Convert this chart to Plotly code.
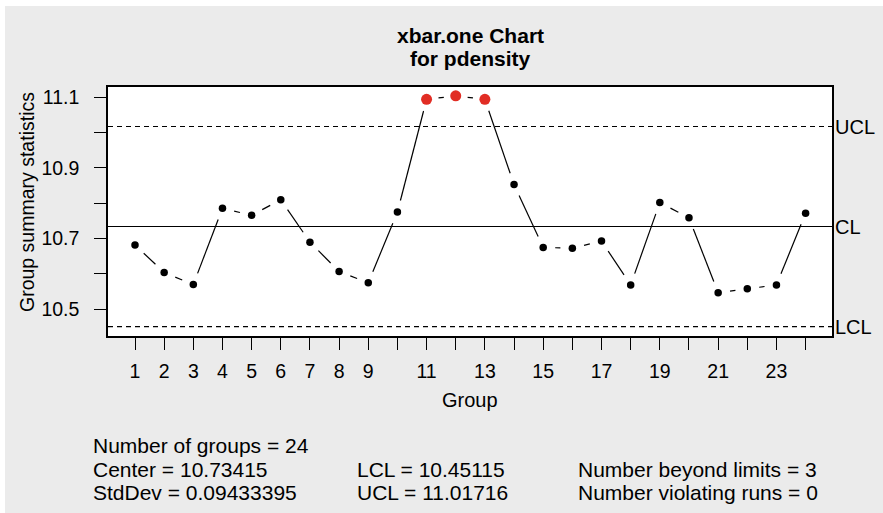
import math
import plotly.graph_objects as go

# ---------------- data ----------------
groups = list(range(1, 25))
group_stats = [10.682, 10.604, 10.570, 10.786, 10.766, 10.810, 10.690, 10.607,
               10.575, 10.775, 11.094, 11.104, 11.094, 10.853, 10.675, 10.673,
               10.693, 10.569, 10.802, 10.759, 10.547, 10.558, 10.569, 10.772]
x_tick_labels = ["1", "2", "3", "4", "5", "6", "7", "8", "9", "", "11", "",
                 "13", "", "15", "", "17", "", "19", "", "21", "", "23", ""]
y_tick_values = [10.5, 10.6, 10.7, 10.8, 10.9, 11.0, 11.1]
y_tick_labels = ["10.5", "", "10.7", "", "10.9", "", "11.1"]
center = 10.73415
lcl = 10.45115
ucl = 11.01716
stddev = 0.09433395
n_groups = 24
n_beyond = 3
n_runs = 0
title_lines = ["xbar.one Chart", "for pdensity"]

# ---------------- layout constants ----------------
FIG_W, FIG_H = 883, 513
M_L, M_R, M_T, M_B = 108, 51, 87, 177
PW, PH = FIG_W - M_L - M_R, FIG_H - M_T - M_B
X_RANGE = [0.074, 24.905]
Y_RANGE = [10.4245, 11.129]
FONT = "Liberation Sans, Arial, Helvetica, sans-serif"
BG = "#EBEBEB"


def px_x(px):
    return (px - M_L) / PW


def px_y(py):
    return (M_T + PH - py) / PH


# connecting segments with gaps around points (R type="b")
sx = PW / (X_RANGE[1] - X_RANGE[0])
sy = PH / (Y_RANGE[1] - Y_RANGE[0])
GAP = 12
seg_x, seg_y = [], []
for i in range(len(groups) - 1):
    x1, y1, x2, y2 = groups[i], group_stats[i], groups[i + 1], group_stats[i + 1]
    L = math.hypot((x2 - x1) * sx, (y2 - y1) * sy)
    if L > 2 * GAP:
        t = GAP / L
        seg_x += [x1 + (x2 - x1) * t, x2 - (x2 - x1) * t, None]
        seg_y += [y1 + (y2 - y1) * t, y2 - (y2 - y1) * t, None]

out = [(v > ucl or v < lcl) for v in group_stats]
colors = ["#E12D24" if o else "black" for o in out]
sizes = [11 if o else 7.5 for o in out]

fig = go.Figure()
fig.add_trace(go.Scatter(x=seg_x, y=seg_y, mode="lines",
                         line=dict(color="black", width=1.2),
                         hoverinfo="skip", showlegend=False))
fig.add_trace(go.Scatter(x=groups, y=group_stats, mode="markers",
                         marker=dict(color=colors, size=sizes, opacity=1,
                                     line=dict(width=0)),
                         showlegend=False))

# control lines
for val, dash in [(ucl, "5px,4px"), (center, "solid"), (lcl, "5px,4px")]:
    fig.add_shape(type="line", xref="paper", yref="y", x0=0, x1=1, y0=val, y1=val,
                  line=dict(color="black", width=1.1, dash=dash))

annotations = []
for lab, val in [("UCL", ucl), ("CL", center), ("LCL", lcl)]:
    annotations.append(dict(text=lab, xref="paper", yref="y", x=1 + 1 / PW, y=val,
                            xanchor="left", yanchor="middle", showarrow=False,
                            font=dict(family=FONT, size=20, color="black")))

# title
for line, py in zip(title_lines, [35, 58.5]):
    annotations.append(dict(text="<b>" + line + "</b>", xref="paper", yref="paper",
                            x=0.5, y=px_y(py), xanchor="center", yanchor="middle",
                            showarrow=False,
                            font=dict(family=FONT, size=21, color="black")))

# axis titles
annotations.append(dict(text="Group", xref="paper", yref="paper", x=0.5, y=px_y(400),
                        xanchor="center", yanchor="middle", showarrow=False,
                        font=dict(family=FONT, size=20, color="black")))
annotations.append(dict(text="Group summary statistics", xref="paper", yref="paper",
                        x=px_x(27), y=px_y(202), textangle=-90,
                        xanchor="center", yanchor="middle", showarrow=False,
                        font=dict(family=FONT, size=19.5, color="black")))

# statistics text
stats_text = [
    ("Number of groups = %d" % n_groups, 93, 445),
    ("Center = %.5f" % center, 93, 469),
    ("StdDev = %.8f" % stddev, 93, 492),
    ("LCL = %.5f" % lcl, 357, 469),
    ("UCL = %.5f" % ucl, 357, 492),
    ("Number beyond limits = %d" % n_beyond, 578, 469),
    ("Number violating runs = %d" % n_runs, 578, 492),
]
for txt, px, py in stats_text:
    annotations.append(dict(text=txt, xref="paper", yref="paper", x=px_x(px - 2),
                            y=px_y(py), xanchor="left", yanchor="middle",
                            showarrow=False,
                            font=dict(family=FONT, size=21, color="black")))

# white border strips (top / left)
fig.add_shape(type="rect", xref="paper", yref="paper", x0=px_x(-5), x1=px_x(FIG_W + 5),
              y0=px_y(6), y1=px_y(-5), fillcolor="white", line=dict(width=0), layer="below")
fig.add_shape(type="rect", xref="paper", yref="paper", x0=px_x(-5), x1=px_x(5),
              y0=px_y(FIG_H + 5), y1=px_y(-5), fillcolor="white", line=dict(width=0), layer="below")

fig.update_layout(
    width=FIG_W, height=FIG_H, autosize=False,
    margin=dict(l=M_L, r=M_R, t=M_T, b=M_B, pad=0),
    paper_bgcolor=BG, plot_bgcolor="white",
    annotations=annotations,
    font=dict(family=FONT, size=18, color="black"),
    showlegend=False,
)
fig.update_xaxes(range=X_RANGE, tickvals=groups, ticktext=x_tick_labels,
                 ticks="outside", ticklen=12, tickwidth=1, tickcolor="black",
                 showline=True, linecolor="black", linewidth=1.5, mirror=True,
                 showgrid=False, zeroline=False,
                 tickfont=dict(family=FONT, size=19.5, color="black"),
                 ticklabelstandoff=5)
fig.update_yaxes(range=Y_RANGE, tickvals=y_tick_values, ticktext=y_tick_labels,
                 ticks="outside", ticklen=12, tickwidth=1, tickcolor="black",
                 showline=True, linecolor="black", linewidth=1.5, mirror=True,
                 showgrid=False, zeroline=False,
                 tickfont=dict(family=FONT, size=19.5, color="black"),
                 ticklabelstandoff=11)

fig.write_html("out.html", config={"displayModeBar": False})
